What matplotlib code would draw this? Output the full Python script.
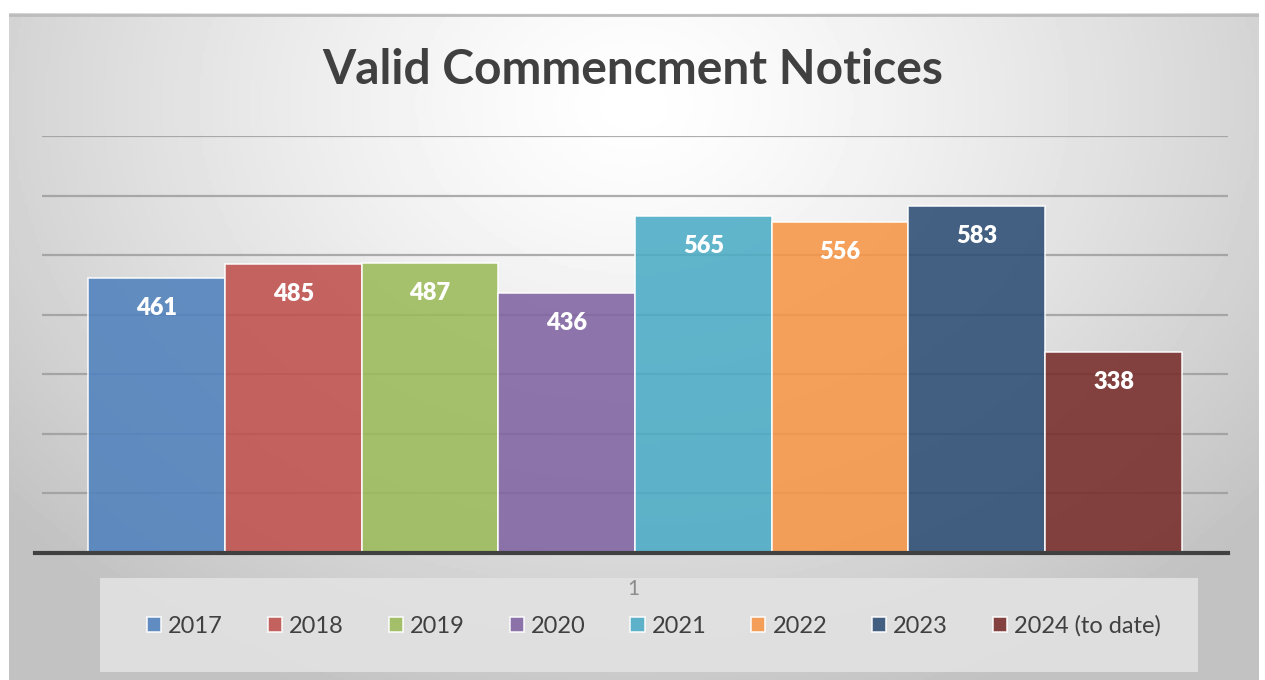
import numpy as np
import matplotlib.pyplot as plt
from matplotlib.patches import Rectangle

years = ['2017', '2018', '2019', '2020', '2021', '2022', '2023', '2024 (to date)']
notices = [461, 485, 487, 436, 565, 556, 583, 338]
colors = ['#4F81BD', '#C0504D', '#9BBB59', '#8064A2', '#4BACC6', '#F79646', '#2C4D75', '#772C2A']
category = '1'

plt.rcParams['font.family'] = ['Lato', 'DejaVu Sans']

W, H = 1265, 680
fig = plt.figure(figsize=(W / 100, H / 100), dpi=100)
fig.patch.set_facecolor('white')

# radial grey background of the chart panel
bg = fig.add_axes([9 / W, 0, 1250 / W, 667 / H], zorder=-10)
gx, gy = np.meshgrid(np.linspace(0, 1250, 400), np.linspace(0, 667, 220))
r = np.sqrt(((gx - 625) / 820) ** 2 + ((gy - 90) / 640) ** 2)
shade = 1.0 - 0.24 * np.clip(r, 0, 1) ** 1.3
bg.imshow(shade, cmap='gray', vmin=0, vmax=1, aspect='auto', extent=[0, 1, 0, 1], origin='upper')
bg.plot([0, 1], [0.997, 0.997], color='#bcbcbc', lw=2, transform=bg.transAxes)
bg.set_xlim(0, 1)
bg.set_ylim(0, 1)
bg.axis('off')

# legend background box
fig.patches.append(Rectangle((100 / W, 1 - 672 / H), 1098 / W, 94 / H, transform=fig.transFigure,
                             facecolor='#e2e2e2', edgecolor='none', alpha=0.9, zorder=-5))

ax = fig.add_axes([42 / W, 127 / H, 1186 / W, 417 / H])
ax.set_facecolor('none')
ax.set_ylim(0, 700)
ax.set_xlim(-0.837, len(years) - 1 + 0.837)
ax.set_yticks(range(100, 701, 100))
ax.grid(axis='y', color='#9a9a9a', lw=1.6, alpha=0.8)
ax.set_axisbelow(True)
ax.tick_params(left=False, bottom=False, labelleft=False, labelbottom=False)
for s in ax.spines.values():
    s.set_visible(False)
ax.plot([-7 / 1186, 1], [0, 0], color='#404040', lw=3, transform=ax.transAxes, clip_on=False, zorder=5)

handles = []
for i, (yr, val, c) in enumerate(zip(years, notices, colors)):
    b = ax.bar(i, val, width=1.0, color=c, alpha=0.88, edgecolor='white', linewidth=1.2, label=yr)
    handles.append(b)
    ax.annotate(str(val), (i, val), xytext=(0, -30), textcoords='offset pixels',
                ha='center', va='center', color='white', fontsize=17, fontweight='heavy')

fig.text(633 / W, 1 - 70 / H, 'Valid Commencment Notices', ha='center', va='center',
         fontsize=34.5, fontweight='bold', color='#404040')
fig.text(633 / W, 1 - 589 / H, category, ha='center', va='center', fontsize=15, color='#8c8c8c')

fig.legend(handles, years, loc='center', bbox_to_anchor=(654 / W, 1 - 626 / H), ncol=8,
           frameon=False, handlelength=0.6, handleheight=0.6, handletextpad=0.3,
           columnspacing=1.9, prop={'size': 17}, labelcolor='#404040')

fig.savefig('out.png', dpi=100)
